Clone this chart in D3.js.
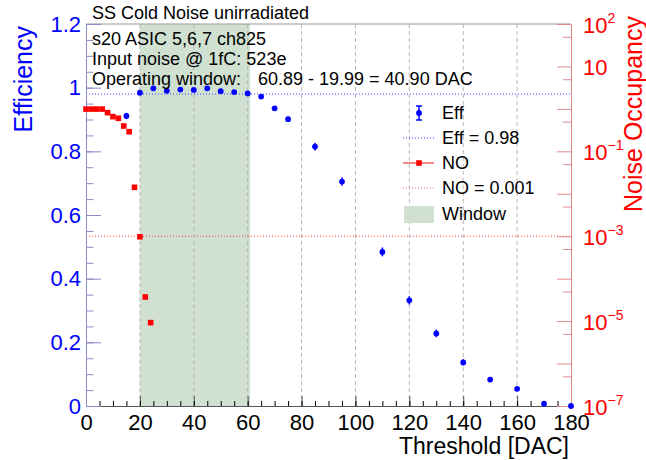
<!DOCTYPE html>
<html>
<head>
<meta charset="utf-8">
<script src="https://cdn.jsdelivr.net/npm/d3@7"></script>
<style>
body { margin: 0; background: #fff; }
svg { font-family: "Liberation Sans", Arial, sans-serif; }
</style>
</head>
<body>
<div id="chart"></div>
<script>
// efficiency scan (blue points with errors)
var effX = [15, 20, 25, 30, 35, 40, 45, 50, 55, 60, 65, 70, 75, 85, 95, 110, 120, 130, 140, 150, 160, 170, 180];
var effY = [0.911, 0.984, 0.998, 0.990, 0.994, 0.993, 0.998, 0.989, 0.986, 0.982, 0.972, 0.935, 0.901, 0.815, 0.705, 0.484, 0.332, 0.228, 0.137, 0.083, 0.054, 0.007, 0.0];
var effErr = [0.010, 0.004, 0.002, 0.003, 0.003, 0.003, 0.002, 0.003, 0.004, 0.004, 0.005, 0.007, 0.008, 0.012, 0.013, 0.014, 0.013, 0.012, 0.010, 0.008, 0.007, 0.003, 0.0];

// noise occupancy (red squares)
var noX = [0, 2, 4, 6, 8, 10, 12, 14, 16, 18, 20, 22, 24];
var noY = [0.99, 0.99, 0.99, 0.99, 0.815, 0.656, 0.601, 0.395, 0.290, 0.0142, 0.00097, 3.7e-5, 9.2e-6];

var xTicks = [0, 20, 40, 60, 80, 100, 120, 140, 160, 180];
var effTicks = [0, 0.2, 0.4, 0.6, 0.8, 1, 1.2];
var noLabelled = [1e2, 1e1, 1e-1, 1e-3, 1e-5, 1e-7];
var effCut = 0.98, noCut = 0.001;
var windowLo = 19.99, windowHi = 60.89;

var textLines = ["s20 ASIC 5,6,7 ch825", "Input noise @ 1fC: 523e", "Operating window:"];
var windowText = "60.89 - 19.99 = 40.90 DAC";

var width = 646, height = 460;
var pLeft = 86, pRight = 571, pTop = 24, pBottom = 406;

var x = d3.scaleLinear().domain([0, 180]).range([pLeft, pRight]);
var yEff = d3.scaleLinear().domain([0, 1.2]).range([pBottom, pTop]);
var yNo = d3.scaleLog().domain([1e-7, 1e2]).range([pBottom, pTop]);

var blue = "#0000ff", red = "#ff0000";

var svg = d3.select("#chart").append("svg")
    .attr("width", width)
    .attr("height", height);

// operating window band
svg.append("rect")
    .attr("x", x(windowLo))
    .attr("y", pTop)
    .attr("width", x(windowHi) - x(windowLo))
    .attr("height", pBottom - pTop)
    .attr("fill", "#d0e0d1");

// vertical grid
svg.append("g").selectAll("line")
    .data(xTicks.slice(1, -1))
    .enter().append("line")
    .attr("x1", function (d) { return x(d); })
    .attr("x2", function (d) { return x(d); })
    .attr("y1", pTop).attr("y2", pBottom)
    .attr("stroke", "#b8b8b8")
    .attr("stroke-width", 1)
    .attr("stroke-dasharray", "4,3");

// threshold lines
svg.append("line")
    .attr("x1", pLeft).attr("x2", pRight)
    .attr("y1", yEff(effCut)).attr("y2", yEff(effCut))
    .attr("stroke", "#4040ff").attr("stroke-width", 1)
    .attr("stroke-dasharray", "1,2");
svg.append("line")
    .attr("x1", pLeft).attr("x2", pRight)
    .attr("y1", yNo(noCut)).attr("y2", yNo(noCut))
    .attr("stroke", "#ff4040").attr("stroke-width", 1)
    .attr("stroke-dasharray", "1,2");

// top frame line
svg.append("line")
    .attr("x1", pLeft).attr("x2", pRight)
    .attr("y1", pTop).attr("y2", pTop)
    .attr("stroke", "#999");

// bottom axis
var xAxis = svg.append("g")
    .attr("transform", "translate(0," + pBottom + ")")
    .call(d3.axisBottom(x).tickValues(xTicks).tickSizeInner(-10).tickSizeOuter(0).tickPadding(8));
svg.append("g")
    .attr("transform", "translate(0," + pBottom + ")")
    .call(d3.axisBottom(x).tickValues(d3.range(5, 180, 5)).tickSizeInner(-5).tickSizeOuter(0).tickFormat(""))
    .call(function (g) { g.select(".domain").remove(); });
xAxis.select(".domain").attr("stroke", "#555");
xAxis.selectAll(".tick line").attr("stroke", "#555");
xAxis.selectAll("text").attr("font-size", 22).attr("fill", "#000").attr("font-family", "Liberation Sans, Arial, sans-serif");

// left axis
var yAxis = svg.append("g")
    .attr("transform", "translate(" + pLeft + ",0)")
    .call(d3.axisLeft(yEff).tickValues(effTicks).tickSizeInner(-15).tickSizeOuter(0).tickPadding(5)
        .tickFormat(function (d) { return d3.format("~g")(d); }));
var yMinor = svg.append("g")
    .attr("transform", "translate(" + pLeft + ",0)")
    .call(d3.axisLeft(yEff).tickValues(d3.range(0.05, 1.2, 0.05)).tickSizeInner(-7.5).tickSizeOuter(0).tickFormat(""));
yMinor.select(".domain").remove();
yMinor.selectAll(".tick line").attr("stroke", "#8a8ac8");
yAxis.select(".domain").attr("stroke", "#8a8ac8");
yAxis.selectAll(".tick line").attr("stroke", "#8a8ac8");
yAxis.selectAll("text").attr("font-size", 22).attr("fill", blue).attr("font-family", "Liberation Sans, Arial, sans-serif");

// right axis (log)
var decades = d3.range(-7, 3).map(function (p) { return Math.pow(10, p); });
var halves = d3.range(-7, 2).map(function (p) { return 5 * Math.pow(10, p); });
var rAxis = svg.append("g")
    .attr("transform", "translate(" + pRight + ",0)")
    .call(d3.axisRight(yNo).tickValues(decades).tickSizeInner(-14).tickSizeOuter(0).tickPadding(12).tickFormat(""));
var rMinor = svg.append("g")
    .attr("transform", "translate(" + pRight + ",0)")
    .call(d3.axisRight(yNo).tickValues(halves).tickSizeInner(-8).tickSizeOuter(0).tickFormat(""));
rMinor.select(".domain").remove();
rMinor.selectAll(".tick line").attr("stroke", "#e08888");
rAxis.select(".domain").attr("stroke", "#e08888");
rAxis.selectAll(".tick line").attr("stroke", "#e08888");

var rLabels = svg.append("g").selectAll("text")
    .data(noLabelled)
    .enter().append("text")
    .attr("x", pRight + 12)
    .attr("y", function (d) { return yNo(d) + 9; })
    .attr("font-size", 22)
    .attr("fill", red);
rLabels.append("tspan").text("10");
rLabels.filter(function (d) { return d !== 10; })
    .append("tspan")
    .attr("font-size", 14)
    .attr("dy", -10)
    .text(function (d) {
        var p = Math.round(Math.log10(d));
        return p < 0 ? "\u2212" + (-p) : String(p);
    });

// axis titles
svg.append("text")
    .attr("transform", "translate(32,26) rotate(-90)")
    .attr("text-anchor", "end")
    .attr("font-size", 25)
    .attr("fill", blue)
    .text("Efficiency");
svg.append("text")
    .attr("transform", "translate(642,16) rotate(-90)")
    .attr("text-anchor", "end")
    .attr("font-size", 25)
    .attr("fill", red)
    .text("Noise Occupancy");
svg.append("text")
    .attr("x", pRight - 2)
    .attr("y", 454)
    .attr("text-anchor", "end")
    .attr("font-size", 23)
    .text("Threshold [DAC]");

// noise occupancy squares
svg.append("g").selectAll("rect")
    .data(noX.map(function (d, i) { return [d, noY[i]]; }))
    .enter().append("rect")
    .attr("x", function (d) { return x(d[0]) - 2.8; })
    .attr("y", function (d) { return yNo(d[1]) - 2.8; })
    .attr("width", 5.6).attr("height", 5.6)
    .attr("fill", red);

// efficiency points with error bars
var eff = svg.append("g").selectAll("g")
    .data(effX.map(function (d, i) { return { x: d, y: effY[i], e: effErr[i] }; }))
    .enter().append("g");
eff.append("line")
    .attr("x1", function (d) { return x(d.x); })
    .attr("x2", function (d) { return x(d.x); })
    .attr("y1", function (d) { return yEff(d.y - d.e); })
    .attr("y2", function (d) { return yEff(Math.min(1.2, d.y + d.e)); })
    .attr("stroke", blue).attr("stroke-width", 1.5);
eff.append("circle")
    .attr("cx", function (d) { return x(d.x); })
    .attr("cy", function (d) { return yEff(d.y); })
    .attr("r", 2.9)
    .attr("fill", blue);

// top-left texts
svg.append("text")
    .attr("x", 92).attr("y", 19)
    .attr("font-size", 18)
    .text("SS Cold Noise unirradiated");
svg.append("g").selectAll("text")
    .data(textLines)
    .enter().append("text")
    .attr("x", 92)
    .attr("y", function (d, i) { return 45 + i * 20; })
    .attr("font-size", 18)
    .text(function (d) { return d; });
svg.append("text")
    .attr("x", 258).attr("y", 85)
    .attr("font-size", 18)
    .text(windowText);

// legend
var lg = svg.append("g").attr("font-size", 18);
var lx = 419, tx = 442;
var rows = [113, 138, 163, 188, 214];
// Eff
lg.append("line").attr("x1", lx).attr("x2", lx).attr("y1", rows[0] - 7).attr("y2", rows[0] + 7).attr("stroke", blue).attr("stroke-width", 1.5);
lg.append("line").attr("x1", lx - 3).attr("x2", lx + 3).attr("y1", rows[0] - 7).attr("y2", rows[0] - 7).attr("stroke", blue).attr("stroke-width", 1.5);
lg.append("line").attr("x1", lx - 3).attr("x2", lx + 3).attr("y1", rows[0] + 7).attr("y2", rows[0] + 7).attr("stroke", blue).attr("stroke-width", 1.5);
lg.append("circle").attr("cx", lx).attr("cy", rows[0]).attr("r", 2.9).attr("fill", blue);
// Eff = 0.98
lg.append("line").attr("x1", 403).attr("x2", 434).attr("y1", rows[1]).attr("y2", rows[1])
    .attr("stroke", "#4040ff").attr("stroke-dasharray", "1,2");
// NO
lg.append("line").attr("x1", 403).attr("x2", 434).attr("y1", rows[2]).attr("y2", rows[2])
    .attr("stroke", "#f06060").attr("stroke-width", 1.5);
lg.append("rect").attr("x", lx - 2.8).attr("y", rows[2] - 2.8).attr("width", 5.6).attr("height", 5.6).attr("fill", red);
// NO = 0.001
lg.append("line").attr("x1", 403).attr("x2", 434).attr("y1", rows[3]).attr("y2", rows[3])
    .attr("stroke", "#ff6060").attr("stroke-dasharray", "1,2");
// Window
lg.append("rect").attr("x", 404).attr("y", rows[4] - 8).attr("width", 30).attr("height", 17).attr("fill", "#d0e0d1");

var legendText = ["Eff", "Eff = 0.98", "NO", "NO = 0.001", "Window"];
lg.selectAll("text.lbl")
    .data(legendText)
    .enter().append("text")
    .attr("class", "lbl")
    .attr("x", tx)
    .attr("y", function (d, i) { return rows[i]; })
    .attr("dy", "0.36em")
    .text(function (d) { return d; });
</script>
</body>
</html>
